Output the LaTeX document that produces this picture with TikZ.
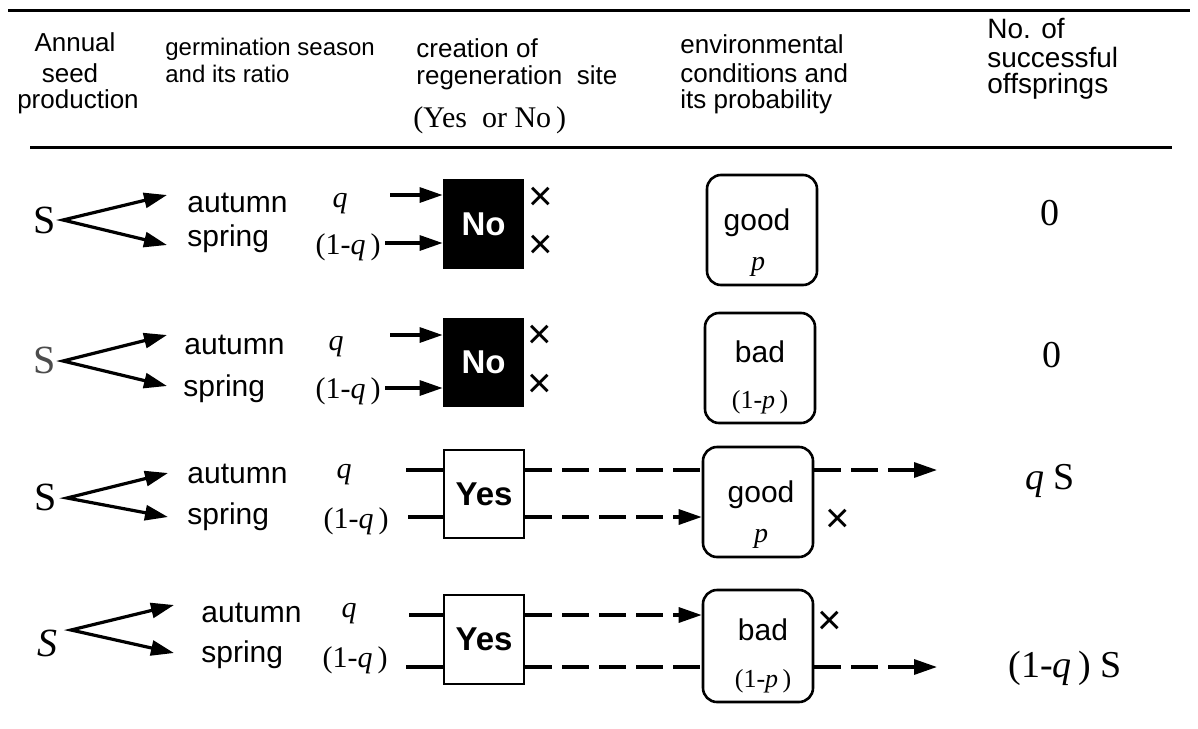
\documentclass[tikz,border=0pt]{standalone}
\usepackage{fontspec}
\setmainfont{Liberation Serif}
\setsansfont{Liberation Sans}
\usetikzlibrary{arrows.meta}
\begin{document}
\begin{tikzpicture}[x=0.5pt,y=-0.5pt,
  hdr/.style={font=\sffamily\fontsize{13}{15}\selectfont, inner sep=0, anchor=base},
  hdrw/.style={hdr, anchor=base west},
  hdrs/.style={hdrw, font=\sffamily\fontsize{12}{14}\selectfont},
  hdrl/.style={hdrw, font=\sffamily\fontsize{14}{16}\selectfont},
  rowt/.style={font=\sffamily\fontsize{15}{18}\selectfont, inner sep=0, anchor=base west},
  sert/.style={font=\fontsize{15}{18}\selectfont, inner sep=0, anchor=base},
  qit/.style={font=\fontsize{15}{18}\selectfont\itshape, inner sep=0, anchor=base},
  pit/.style={font=\fontsize{14}{17}\selectfont\itshape, inner sep=0, anchor=base},
  pp/.style={font=\fontsize{13}{16}\selectfont, inner sep=0, anchor=base},
  bigs/.style={font=\fontsize{20}{24}\selectfont, inner sep=0},
  bigt/.style={font=\fontsize{19}{23}\selectfont, inner sep=0},
  arr/.style={line width=1.6pt, -{Triangle[length=11.5pt,width=7.5pt]}},
  forkl/.style={line width=1.6pt, {Triangle[length=11.5pt,width=7.5pt]}-{Triangle[length=11.5pt,width=7.5pt]}},
  ln/.style={line width=1.6pt},
  dsh/.style={line width=1.6pt, dash pattern=on 13.5pt off 5pt},
  dsha/.style={dsh, -{Triangle[length=11.5pt,width=7.5pt]}},
  rulel/.style={line width=1.5pt},
  nobox/.style={fill=black, minimum width=40.5pt, minimum height=45pt, inner sep=0, text=white, font=\sffamily\bfseries\fontsize{16.5}{19}\selectfont},
  yesbox/.style={draw, line width=1.3pt, minimum width=40pt, minimum height=44pt, inner sep=0, font=\sffamily\bfseries\fontsize{16.5}{19}\selectfont},
  envbox/.style={draw, line width=1.3pt, rounded corners=7pt, minimum width=55pt, minimum height=55pt, inner sep=0},
  envt/.style={font=\sffamily\fontsize{15}{18}\selectfont, inner sep=0, anchor=base},
  cross/.style={font=\sffamily\fontsize{21}{21}\selectfont, inner sep=0},
]
\fill[white] (0,0) rectangle (1198,728);
\useasboundingbox (0,0) rectangle (1198,728);

% rules
\coordinate (r1a) at (8,10); \coordinate (r1b) at (1190,10);
\coordinate (r2a) at (30,147); \coordinate (r2b) at (1172,147);
\draw[rulel] (r1a) -- (r1b);
\draw[rulel] (r2a) -- (r2b);

% header
\node[hdr] (h1a) at (75,51) {Annual};
\node[hdr] (h1b) at (70,82) {seed};
\node[hdr] (h1c) at (78,108) {production};
\node[hdrs] (h2a) at (165,55) {germination season};
\node[hdrs] (h2b) at (165,82) {and its ratio};
\node[hdrw] (h3a) at (416,57) {creation of};
\node[hdrw] (h3b) at (416,84) {regeneration\ \ site};
\node[sert, anchor=base west] (h3c) at (413,127) {(Yes\ \ or No\,)};
\node[hdrw] (h4a) at (680,53) {environmental};
\node[hdrw] (h4b) at (680,82) {conditions and};
\node[hdrw] (h4c) at (680,108) {its probability};
\node[hdrl] (h5a) at (987,39) {No. of};
\node[hdrl] (h5b) at (987,67) {successful};
\node[hdrl] (h5c) at (987,93) {offsprings};

% ---------- row 1 ----------
\node[bigs] (s1) at (45,220) {S};
\coordinate (f1) at (63,220);
\coordinate (t1a) at (167,195); \coordinate (t1b) at (167,245);
\draw[forkl] (t1a) -- (f1) -- (t1b);
\node[rowt] (au1) at (187,212) {autumn};
\node[rowt] (sp1) at (187,246) {spring};
\node[qit] (q1) at (340,207) {q};
\node[sert] (qq1) at (348,254) {(1-\textit{q}\,)};
\node[nobox] (no1) at (483.5,224) {No};
\coordinate (a1u) at (390,195); \coordinate (a1l) at (385,243);
\draw[arr] (a1u) -- (no1.west |- a1u);
\draw[arr] (a1l) -- (no1.west |- a1l);
\node[cross] (x1a) at (541,199) {×};
\node[cross] (x1b) at (541,247) {×};
\node[envbox] (e1) at (762,230) {};
\node[envt] (e1t) at (757,230) {good};
\node[pit] (e1p) at (758,270) {p};
\node[bigt] (z1) at (1050,213) {0};

% ---------- row 2 ----------
\node[bigs, text=black!70] (s2) at (45,360) {S};
\coordinate (f2) at (63,361);
\coordinate (t2a) at (167,335); \coordinate (t2b) at (167,386);
\draw[forkl] (t2a) -- (f2) -- (t2b);
\node[rowt] (au2) at (184,354) {autumn};
\node[rowt] (sp2) at (183,396) {spring};
\node[qit] (q2) at (336,350) {q};
\node[sert] (qq2) at (348,398) {(1-\textit{q}\,)};
\node[nobox, minimum height=44.5pt] (no2) at (483.5,362.5) {No};
\coordinate (a2u) at (390,335); \coordinate (a2l) at (385,388);
\draw[arr] (a2u) -- (no2.west |- a2u);
\draw[arr] (a2l) -- (no2.west |- a2l);
\node[cross] (x2a) at (540,337) {×};
\node[cross] (x2b) at (540,386) {×};
\node[envbox] (e2) at (760,368) {};
\node[envt] (e2t) at (760,362) {bad};
\node[pp] (e2p) at (760,408) {(1-\textit{p}\,)};
\node[bigt] (z2) at (1052,355) {0};

% ---------- row 3 ----------
\node[bigs] (s3) at (46,497) {S};
\coordinate (f3) at (67,498);
\coordinate (t3a) at (168,473); \coordinate (t3b) at (168,517);
\draw[forkl] (t3a) -- (f3) -- (t3b);
\node[rowt] (au3) at (187,483) {autumn};
\node[rowt] (sp3) at (187,524) {spring};
\node[qit] (q3) at (344,478) {q};
\node[sert] (qq3) at (356,528) {(1-\textit{q}\,)};
\node[yesbox] (y3) at (484,494) {Yes};
\coordinate (l3u) at (406,470); \coordinate (l3l) at (408,517);
\draw[ln] (l3u) -- (y3.west |- l3u);
\draw[ln] (l3l) -- (y3.west |- l3l);
\node[envbox] (e3) at (758,502) {};
\node[envt] (e3t) at (761,502) {good};
\node[pit] (e3p) at (761,542) {p};
\draw[dsh] (y3.east |- l3u) -- (e3.west |- l3u);
\draw[dsha] (y3.east |- l3l) -- (e3.west |- l3l);
\coordinate (o3) at (937,470);
\draw[dsha] (e3.east |- o3) -- (o3);
\node[cross] (x3) at (838,521) {×};
\node[bigt] (r3) at (1050,481) {\textit{q} S};

% ---------- row 4 ----------
\node[bigs, font=\fontsize{20}{24}\selectfont\itshape] (s4) at (47,643) {S};
\coordinate (f4) at (71,630);
\coordinate (t4a) at (174,605); \coordinate (t4b) at (174,653);
\draw[forkl] (t4a) -- (f4) -- (t4b);
\node[rowt] (au4) at (201,622) {autumn};
\node[rowt] (sp4) at (201,662) {spring};
\node[qit] (q4) at (349,617) {q};
\node[sert] (qq4) at (355,667) {(1-\textit{q}\,)};
\node[yesbox, minimum height=44.5pt] (y4) at (484,639.5) {Yes};
\coordinate (l4u) at (409,615); \coordinate (l4l) at (406,667);
\draw[ln] (l4u) -- (y4.west |- l4u);
\draw[ln] (l4l) -- (y4.west |- l4l);
\node[envbox, minimum height=56pt] (e4) at (758,646) {};
\node[envt] (e4t) at (763,640) {bad};
\node[pp] (e4p) at (763,687) {(1-\textit{p}\,)};
\draw[dsha] (y4.east |- l4u) -- (e4.west |- l4u);
\draw[dsh] (y4.east |- l4l) -- (e4.west |- l4l);
\coordinate (o4) at (937,667);
\draw[dsha] (e4.east |- o4) -- (o4);
\node[cross] (x4) at (830,623) {×};
\node[bigt] (r4) at (1065,668) {(1-\textit{q}\,) S};
\end{tikzpicture}
\end{document}
